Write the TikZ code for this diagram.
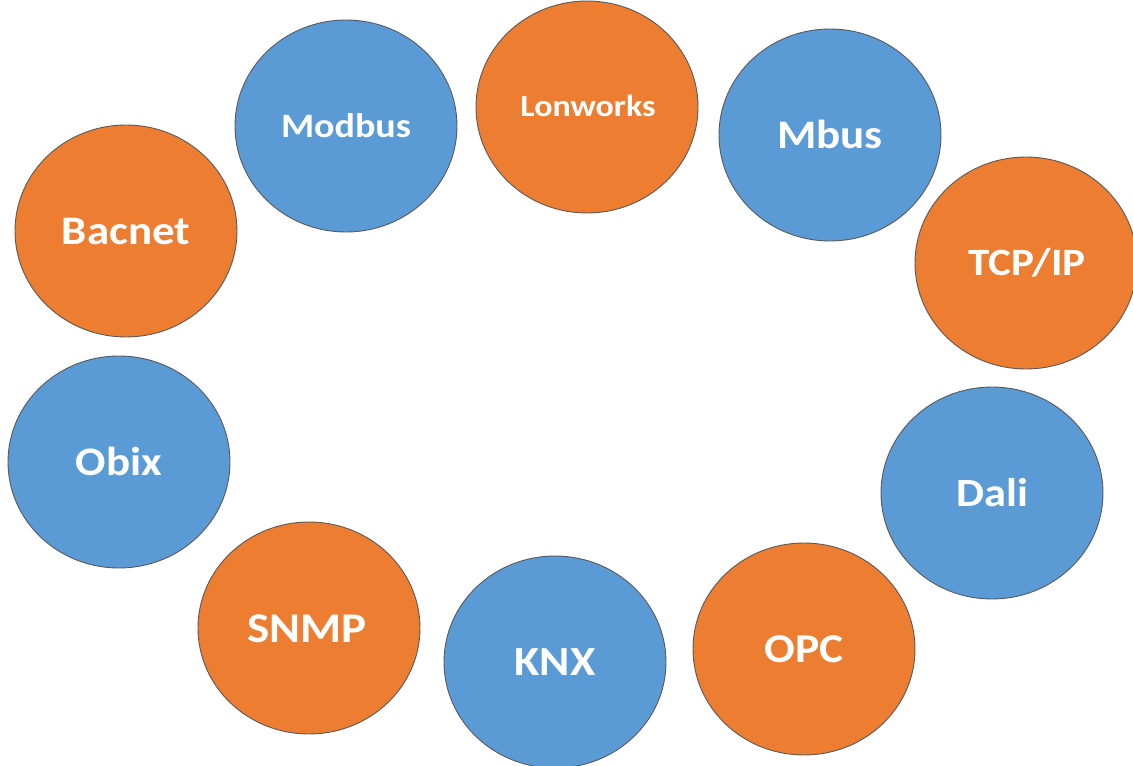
\documentclass[tikz,border=0pt]{standalone}
\usepackage{fontspec}
\setmainfont{Carlito}
\usetikzlibrary{shapes.geometric}
\definecolor{oorange}{HTML}{ED7D31}
\definecolor{oblue}{HTML}{5B9BD5}
\newcommand{\squash}[1]{\scalebox{1}[0.9]{#1}}
\tikzset{
  proto/.style={ellipse, minimum width=222pt, minimum height=212pt, inner sep=0pt, draw=black!65, line width=0.9pt},
  orangec/.style={proto, fill=oorange},
  bluec/.style={proto, fill=oblue},
  lbl/.style={text=white, anchor=base, inner sep=0pt, font=\bfseries\fontsize{#1}{#1}\selectfont},
}
\begin{document}
\begin{tikzpicture}[x=1pt,y=-1pt]
\useasboundingbox (0,0) rectangle (1133,766);
% circles
\node[bluec]   (modbus)   at (346,126) {};
\node[orangec] (lonworks) at (587,107) {};
\node[bluec]   (mbus)     at (830,135) {};
\node[orangec] (tcpip)    at (1026,263) {};
\node[orangec] (bacnet)   at (126,231) {};
\node[bluec]   (obix)     at (119,462) {};
\node[bluec]   (dali)     at (992,493) {};
\node[orangec] (snmp)     at (309,628) {};
\node[bluec]   (knx)      at (555,662) {};
\node[orangec] (opc)      at (804,649) {};
% labels
\node[lbl=38pt] (modbust)   at (346,137) {\squash{Modbus}};
\node[lbl=34pt] (lonworkst) at (588,116) {\squash{Lonworks}};
\node[lbl=45pt] (mbust)     at (830,148) {\squash{Mbus}};
\node[lbl=43pt] (tcpipt)    at (1027,275) {\squash{TCP/IP}};
\node[lbl=45pt] (bacnett)   at (126,244) {\squash{Bacnet}};
\node[lbl=45pt] (obixt)     at (119,475) {\squash{Obix}};
\node[lbl=44.5pt] (dalit)   at (992,506) {\squash{Dali}};
\node[lbl=47pt] (snmpt)     at (307,642) {\squash{SNMP}};
\node[lbl=46pt] (knxt)      at (555,675) {\squash{KNX}};
\node[lbl=45.5pt] (opct)    at (804,662) {\squash{OPC}};
\end{tikzpicture}
\end{document}
